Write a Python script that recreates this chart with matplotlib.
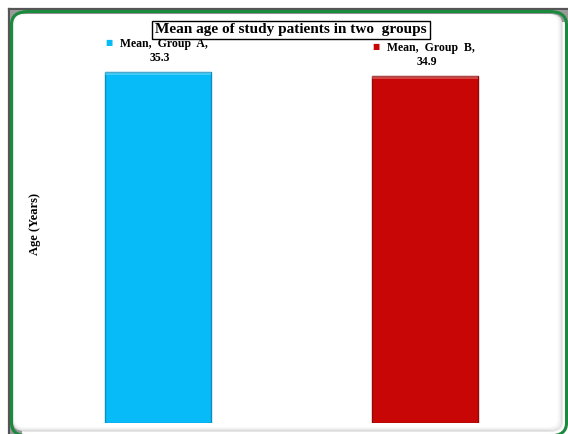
import matplotlib
matplotlib.use("Agg")
import matplotlib.pyplot as plt
from matplotlib.patches import FancyBboxPatch, Rectangle
from matplotlib.lines import Line2D

groups = ["Group A", "Group B"]
means = [35.3, 34.9]
colors = ["#06BBF8", "#C90606"]
edge_colors = ["#0A8FC0", "#8E0A0A"]

W, H = 568, 434
fig = plt.figure(figsize=(W / 100, H / 100), dpi=100)
fig.patch.set_facecolor("white")


def fx(px):
    return px / W


def fy(py):
    return 1 - py / H


# dark grey outer edge on the left and top
fig.lines.append(Line2D([fx(8.5), fx(8.5)], [fy(9), fy(434)], color="#555555",
                        linewidth=1.6, transform=fig.transFigure, zorder=0))
fig.lines.append(Line2D([fx(8.5), fx(568)], [fy(9), fy(9)], color="#555555",
                        linewidth=1.6, transform=fig.transFigure, zorder=0))
fig.patches.append(Rectangle((fx(9.5), fy(434)), fx(12), 424 / H,
                             transform=fig.transFigure, facecolor="#9a9a9a",
                             edgecolor="none", zorder=0))
fig.patches.append(Rectangle((fx(9.5), fy(22)), fx(560), 12 / H,
                             transform=fig.transFigure, facecolor="#9a9a9a",
                             edgecolor="none", zorder=0))

# inner panel with a soft grey inner shading along right and bottom
for i, a in enumerate([0.20, 0.12, 0.07, 0.03]):
    fig.patches.append(FancyBboxPatch(
        (fx(13 + i * 0.3), fy(431 - i)), fx(549 - i * 1.5), (417 - i) / H,
        boxstyle="round,pad=0,rounding_size=0.02",
        transform=fig.transFigure, facecolor="white",
        edgecolor=(0.55, 0.55, 0.55, a), linewidth=1.5, zorder=1))

frame = FancyBboxPatch((fx(11.5), fy(436)), fx(555), 424.5 / H,
                       boxstyle="round,pad=0,rounding_size=0.03",
                       transform=fig.transFigure, facecolor="none",
                       edgecolor="#1A8A3C", linewidth=2.2, zorder=2)
fig.patches.append(frame)

# axes placement in pixels
left_px, right_px, bottom_px, top_px = 60, 530, 11, 394
ax = fig.add_axes([left_px / W, bottom_px / H, (right_px - left_px) / W,
                   (top_px - bottom_px) / H])
ax.set_facecolor("none")
ax.set_zorder(3)

bar_w = 0.397
x = [0, 1]
ax.bar(x, means, width=bar_w, color=colors, edgecolor=edge_colors,
       linewidth=1.0, zorder=3)

# subtle bevel highlights on bar tops
for xi, m in zip(x, means):
    ax.add_patch(Rectangle((xi - bar_w / 2, m - 0.35), bar_w, 0.35,
                           facecolor="white", alpha=0.25, linewidth=0,
                           zorder=4))

px_per_unit = 351 / 35.3
ymax = (top_px - bottom_px) / px_per_unit
ax.set_ylim(0, ymax)
ax.set_xlim(-(158 - left_px) / 267, (right_px - 158) / 267)

for s in ax.spines.values():
    s.set_visible(False)
ax.set_xticks([])
ax.set_yticks([])

# data labels with series key
for xi, m, g, c in zip(x, means, groups, colors):
    ax.annotate(f"Mean,  {g.replace(' ', '  ')},", (xi, m), xytext=(4, 20),
                textcoords="offset points", ha="center", va="center",
                fontsize=8.5, fontweight="bold", family="Liberation Serif",
                zorder=5)
    ax.annotate("\u25A0", (xi, m), xytext=(-35.5, 21),
                textcoords="offset points", ha="center", va="center",
                fontsize=5.5, color=c, family="DejaVu Sans", zorder=5)
    ax.annotate(f"{m}", (xi, m), xytext=(1, 9.8),
                textcoords="offset points", ha="center", va="center",
                fontsize=8.5, fontweight="bold", family="Liberation Serif",
                zorder=5)

fig.text(fx(35), fy(224), "Age (Years)", rotation=90, ha="center",
         va="center", fontsize=9, fontweight="bold",
         family="Liberation Serif", zorder=6)

fig.text(fx(291), fy(30), "Mean age of study patients in two  groups",
         ha="center", va="center", fontsize=11, fontweight="bold",
         family="Liberation Serif", zorder=6,
         bbox=dict(facecolor="white", edgecolor="black", linewidth=1,
                   boxstyle="square,pad=0.18"))

fig.savefig("out.png", dpi=100)
